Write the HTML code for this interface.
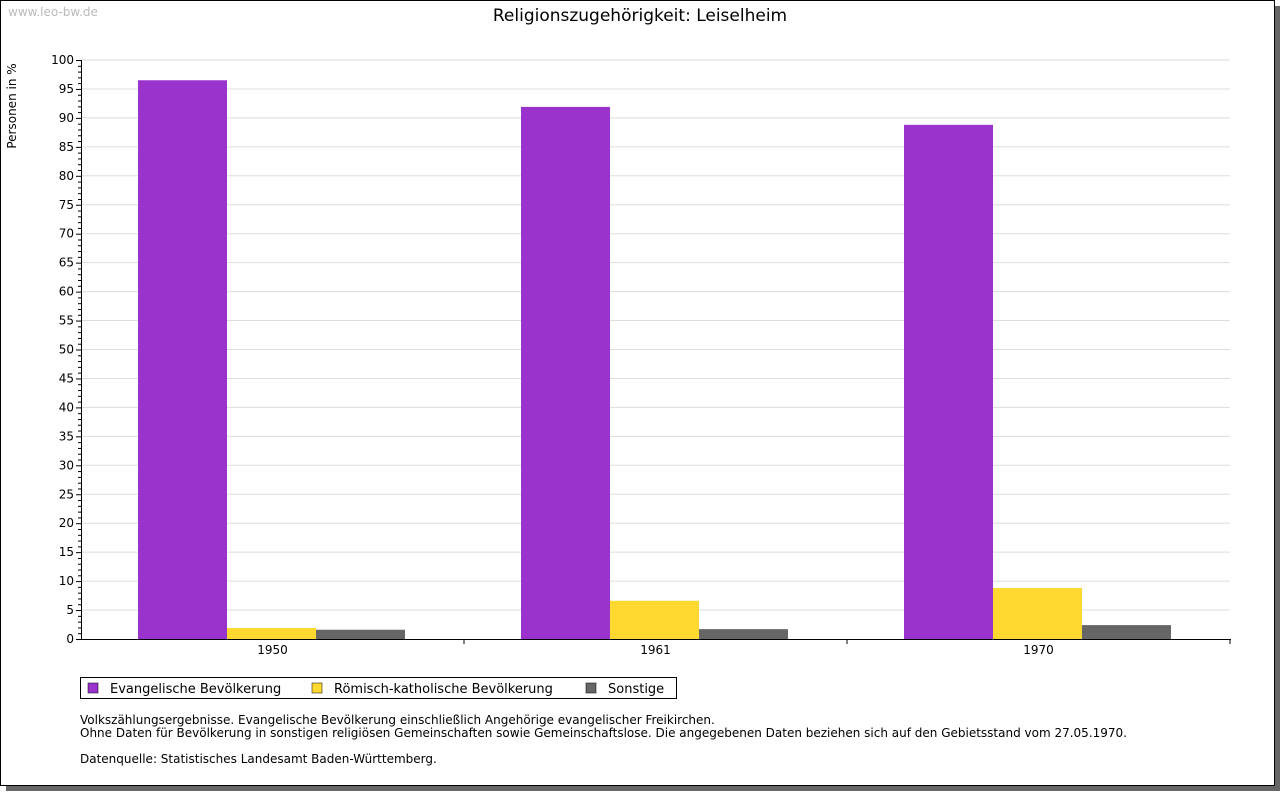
<!DOCTYPE html>
<html><head><meta charset="utf-8"><style>
body{margin:0;background:#fff;width:1280px;height:791px;overflow:hidden;font-family:"Liberation Sans","DejaVu Sans",sans-serif}
svg text{font-family:"DejaVu Sans","Liberation Sans",sans-serif}
</style></head><body>
<svg width="1280" height="791" xmlns="http://www.w3.org/2000/svg">
<rect x="6" y="6" width="1274" height="785" fill="#666"/>
<rect x="0.5" y="0.5" width="1274" height="785" fill="#fff" stroke="#000"/>
<text x="8" y="16" font-size="12" fill="#bbb">www.leo-bw.de</text>
<text x="640" y="21" font-size="17" text-anchor="middle">Religionszugehörigkeit: Leiselheim</text>
<text transform="translate(16,106) rotate(-90)" font-size="12" text-anchor="middle">Personen in %</text>
<g id="grid"></g><g id="bars"></g><g id="axes"></g>
<g>
<rect x="80.5" y="677.5" width="596" height="21" fill="#fff" stroke="#000"/>
<rect x="88" y="683" width="10" height="10" fill="#9933cc" stroke="#000" stroke-width="0.5"/>
<text x="110" y="693" font-size="13">Evangelische Bevölkerung</text>
<rect x="312" y="683" width="10" height="10" fill="#ffd92f" stroke="#000" stroke-width="0.5"/>
<text x="334" y="693" font-size="13">Römisch-katholische Bevölkerung</text>
<rect x="586" y="683" width="10" height="10" fill="#666" stroke="#000" stroke-width="0.5"/>
<text x="608" y="693" font-size="13">Sonstige</text>
</g>
<g font-size="12">
<text x="80" y="724">Volkszählungsergebnisse. Evangelische Bevölkerung einschließlich Angehörige evangelischer Freikirchen.</text>
<text x="80" y="737">Ohne Daten für Bevölkerung in sonstigen religiösen Gemeinschaften sowie Gemeinschaftslose. Die angegebenen Daten beziehen sich auf den Gebietsstand vom 27.05.1970.</text>
<text x="80" y="763">Datenquelle: Statistisches Landesamt Baden-Württemberg.</text>
</g>
</svg>
<script>
const categories=["1950","1961","1970"];
const evangelisch=[96.5,91.9,88.8];
const katholisch=[1.9,6.6,8.8];
const sonstige=[1.6,1.7,2.4];
const yTicks=[0,5,10,15,20,25,30,35,40,45,50,55,60,65,70,75,80,85,90,95,100];
const NS="http://www.w3.org/2000/svg";
const X0=81,X1=1230,Y0=639,Y1=60;
const y=v=>Y0-(Y0-Y1)*v/100;
const gw=(X1-X0)/categories.length;
const x=i=>X0+gw*i;
function mk(t,a,p){const e=document.createElementNS(NS,t);for(const k in a)e.setAttribute(k,a[k]);p.appendChild(e);return e;}
const grid=document.getElementById('grid'),bars=document.getElementById('bars'),axes=document.getElementById('axes');
yTicks.forEach(v=>{
 if(v>0){const g=mk('line',{x1:X0,x2:X1,y1:y(v),y2:y(v),stroke:'#ddd'},grid);
 
 }
 const t=mk('text',{x:74,y:y(v)+4,'font-size':12,'text-anchor':'end'},axes);t.textContent=v;
 
 
});
for(let v=0;v<=100;v++){mk('line',{x1:v%5?X0-3:X0-5,x2:X0,y1:y(v)+0.5,y2:y(v)+0.5,stroke:'#000'},axes);}
const series=[[evangelisch,'#9933cc','bar-evangelisch'],[katholisch,'#ffd92f','bar-katholisch'],[sonstige,'#666666','bar-sonstige']];
const off=57,bw=89;
categories.forEach((c,i)=>{
 series.forEach(([d,col,n],s)=>{
  const r=mk('rect',{x:x(i)+off+s*bw,y:y(d[i]),width:bw,height:Y0-y(d[i]),fill:col},bars);
  
  
 });
 const t=mk('text',{x:x(i)+gw/2,y:654,'font-size':12,'text-anchor':'middle'},axes);t.textContent=c;
 
 
 mk('line',{x1:x(i+1),x2:x(i+1),y1:Y0,y2:Y0+5,stroke:'#000'},axes);
});
const ya=mk('line',{x1:X0+0.5,x2:X0+0.5,y1:Y1,y2:Y0+1,stroke:'#000'},axes);


const xa=mk('line',{x1:X0,x2:X1+1,y1:Y0+0.5,y2:Y0+0.5,stroke:'#000'},axes);


</script>
</body></html>
